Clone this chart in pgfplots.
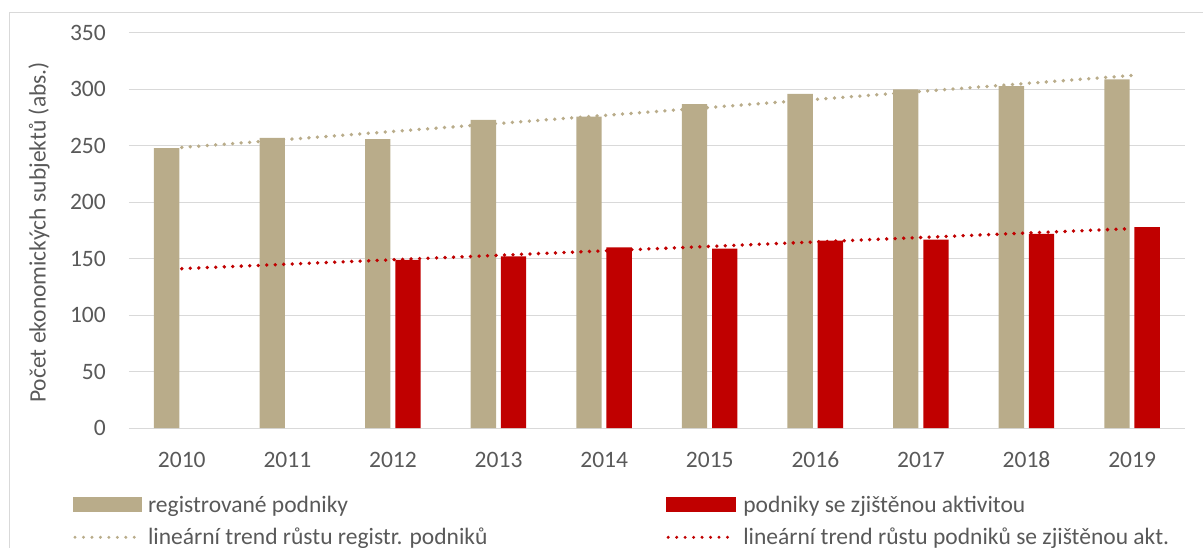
\documentclass[border=0pt]{standalone}
\usepackage{fontspec}
\setmainfont{Carlito}
\usepackage{pgfplots}
\pgfplotsset{compat=1.18}
\definecolor{regcol}{HTML}{B9AC8A}
\definecolor{actcol}{HTML}{C00000}
\definecolor{txt}{HTML}{595959}
\definecolor{gridc}{HTML}{D9D9D9}
\begin{document}
\begin{tikzpicture}
\useasboundingbox (-129bp,-120bp) rectangle (1074bp,428bp);
\draw[gridc, line width=1bp] (-119bp,-130bp) -- (-119bp,415.3bp) -- (1090bp,415.3bp);
\begin{axis}[
  at={(0,0)}, anchor=south west,
  scale only axis, width=1056bp, height=395bp,
  xmin=-0.5, xmax=9.5, ymin=0, ymax=350,
  ytick={0,50,...,350},
  xtick={0,...,9}, xticklabels={2010,2011,2012,2013,2014,2015,2016,2017,2018,2019},
  /pgf/number format/assume math mode=true,
  ymajorgrids, grid style={gridc, line width=1bp},
  axis line style={draw=none}, major tick length=0pt,
  tick label style={font=\fontsize{23.6}{28}\selectfont, text=txt, inner sep=0pt},
  yticklabel style={anchor=east, xshift=-23bp},
  xticklabel style={anchor=base, yshift=-39bp},
  ylabel={Počet ekonomických subjektů (abs.)},
  every axis y label/.style={at={(axis description cs:0,0.495)}, xshift=-90bp, rotate=90, anchor=center, font=\fontsize{23.6}{28}\selectfont, text=txt},
  legend columns=2,
  legend style={at={(axis description cs:-0.05275,-0.1747)}, anchor=north west, draw=none, fill=none, inner sep=0pt, outer sep=0pt,
    font=\fontsize{23.6}{28}\selectfont, text=txt, row sep=12bp, column sep=0pt,
    nodes={inner sep=0pt, text height=15bp, text depth=5bp},
    cells={anchor=base west}},
]
\addplot[ybar, bar width=0.24, bar shift=-0.144, fill=regcol, draw=none,
  legend image code/.code={\fill[regcol] (0bp,0bp) rectangle (69.2bp,15bp);}]
  coordinates {(0,248) (1,257) (2,256) (3,273) (4,276) (5,287) (6,296) (7,300) (8,303) (9,309)};
\addlegendentry{\makebox[524bp][l]{\hspace{5.6bp}registrované podniky}}
\addplot[ybar, bar width=0.24, bar shift=0.142, fill=actcol, draw=none,
  legend image code/.code={\fill[actcol] (0bp,0bp) rectangle (69.2bp,15bp);}]
  coordinates {(2,149) (3,152) (4,160) (5,159) (6,166) (7,167) (8,172) (9,178)};
\addlegendentry{\hspace{7.6bp}podniky se zjištěnou aktivitou}
\addplot[regcol, line width=3.8bp, line cap=round, dash pattern=on 0bp off 8.5bp,
  legend image code/.code={\draw[regcol, line width=3.3bp, line cap=round, dash pattern=on 0bp off 8.47bp] (1.7bp,6.7bp) -- (62bp,6.7bp);}]
  coordinates {(0,248.6) (9,312.4)};
\addlegendentry{\makebox[524bp][l]{\hspace{5.6bp}lineární trend růstu registr. podniků}}
\addplot[actcol, line width=3.8bp, line cap=round, dash pattern=on 0bp off 8.5bp,
  legend image code/.code={\draw[actcol, line width=3.3bp, line cap=round, dash pattern=on 0bp off 8.47bp] (1.7bp,6.7bp) -- (62bp,6.7bp);}]
  coordinates {(0,141.2) (9,176.7)};
\addlegendentry{\hspace{7.6bp}lineární trend růstu podniků se zjištěnou akt.}
\end{axis}
\end{tikzpicture}
\end{document}
